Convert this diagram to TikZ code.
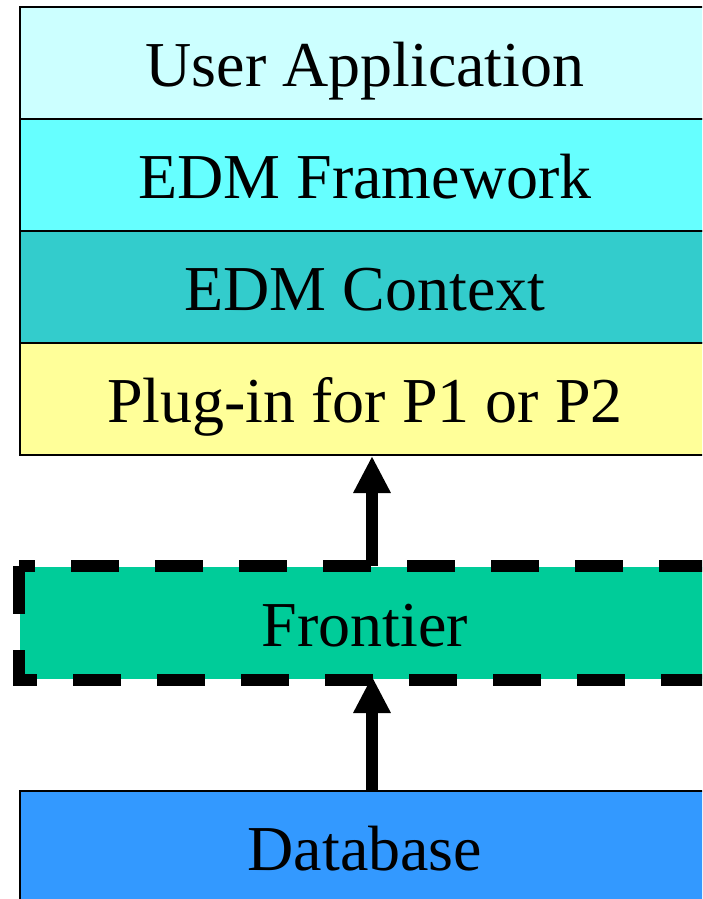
\documentclass[tikz,border=0pt]{standalone}
\usepackage{fontspec}
\setmainfont{Liberation Serif}
\usetikzlibrary{arrows.meta}
\definecolor{cUser}{HTML}{CCFFFF}
\definecolor{cFrame}{HTML}{66FFFF}
\definecolor{cCtx}{HTML}{33CCCC}
\definecolor{cPlug}{HTML}{FFFF99}
\definecolor{cFront}{HTML}{00CC99}
\definecolor{cDb}{HTML}{3399FF}
\begin{document}
\begin{tikzpicture}[x=1pt,y=-1pt,
  layer/.style={draw=black,line width=2pt,minimum width=690pt,minimum height=112pt,
    inner sep=0pt,text height=46pt,text depth=0pt,
    font=\fontsize{64}{70}\selectfont},
  uparrow/.style={line width=12pt,-{Triangle[width=35pt,length=37pt]}},
  dashframe/.style={line width=12pt,dash pattern=on 48pt off 36pt,line cap=butt,line join=miter}]
\useasboundingbox (0,0) rectangle (702,899);
\clip (0,0) rectangle (702,899);
% stacked software layers
\node[layer,fill=cUser]  (user)  at (365,63)  {User Application};
\node[layer,fill=cFrame] (frame) at (365,175) {EDM Framework};
\node[layer,fill=cCtx]   (ctx)   at (365,287) {EDM Context};
\node[layer,fill=cPlug]  (plug)  at (365,399) {Plug-in for P1 or P2};
% frontier band with heavy dashed outline
\node[layer,draw=none,fill=cFront] (front) at (365,623) {Frontier};
% data source
\node[layer,fill=cDb] (db) at (365,847) {Database};
% data flow upward
\draw[uparrow] ([xshift=7pt]front.north) -- ([xshift=7pt]plug.south);
\draw[uparrow] ([xshift=7pt]db.north) -- ([xshift=7pt,yshift=4pt]front.south);
\draw[dashframe] (front.north west) -- (front.south west) -- (front.south east)
  -- (front.north east) -- cycle;
\end{tikzpicture}
\end{document}
